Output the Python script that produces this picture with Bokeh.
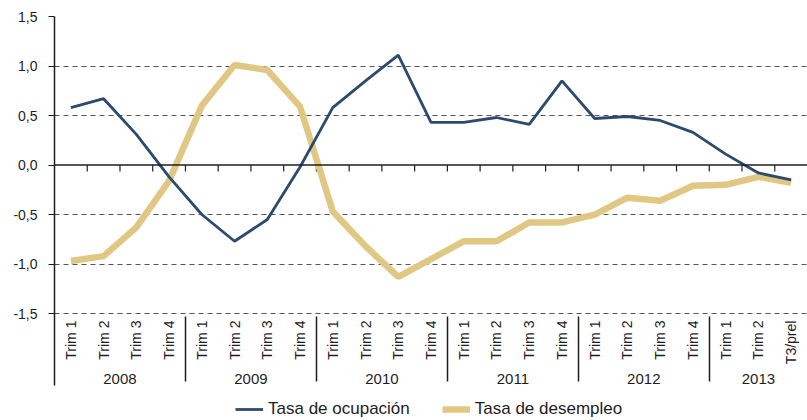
import math
from bokeh.plotting import figure
from bokeh.models import (FactorRange, FixedTicker, Span, Legend, LegendItem,
                          ColumnDataSource, CustomJSTickFormatter)
from bokeh.embed import file_html
from bokeh.resources import INLINE

years = ["2008", "2009", "2010", "2011", "2012", "2013"]
quarters = [
    ["Trim 1", "Trim 2", "Trim 3", "Trim 4"],
    ["Trim 1", "Trim 2", "Trim 3", "Trim 4"],
    ["Trim 1", "Trim 2", "Trim 3", "Trim 4"],
    ["Trim 1", "Trim 2", "Trim 3", "Trim 4"],
    ["Trim 1", "Trim 2", "Trim 3", "Trim 4"],
    ["Trim 1", "Trim 2", "T3/prel"],
]
ocupacion = [0.58, 0.67, 0.31, -0.12, -0.50, -0.77, -0.55, -0.02,
             0.58, 0.85, 1.11, 0.43, 0.43, 0.48, 0.41, 0.85,
             0.47, 0.49, 0.45, 0.33, 0.11, -0.08, -0.15]
desempleo = [-0.97, -0.92, -0.63, -0.16, 0.60, 1.01, 0.96, 0.59,
             -0.47, -0.82, -1.13, -0.95, -0.77, -0.77, -0.58, -0.58,
             -0.50, -0.33, -0.36, -0.21, -0.20, -0.12, -0.18]
y_ticks = [-1.5, -1.0, -0.5, 0.0, 0.5, 1.0, 1.5]

factors = [(y, q) for y, qs in zip(years, quarters) for q in qs]
src = ColumnDataSource(dict(x=factors, ocu=ocupacion, des=desempleo))

FONT = "Liberation Sans"
BLUE = "#2b4a6d"
GOLD = "#e0c884"
INK = "#1e1e1e"

# the frame also holds the category labels and legend below the -1,5 line
Y_BOTTOM = -2.58
p = figure(frame_width=753, frame_height=404, output_backend="svg", toolbar_location=None,
           x_range=FactorRange(*factors, group_padding=0, factor_padding=0,
                               subgroup_padding=0, range_padding=0),
           y_range=(Y_BOTTOM, y_ticks[-1]),
           min_border_left=54, min_border_right=0, min_border_top=16,
           min_border_bottom=0)
p.outline_line_color = None
p.background_fill_color = "white"

# grid
p.xgrid.grid_line_color = None
p.ygrid.ticker = FixedTicker(ticks=[t for t in y_ticks if t != 0])
p.ygrid.grid_line_color = "#555555"
p.ygrid.grid_line_dash = "5 4"
p.ygrid.grid_line_width = 1

# y axis (its line continues down past the category labels)
p.yaxis.ticker = FixedTicker(ticks=y_ticks)
p.yaxis.bounds = (-2.23, y_ticks[-1])
p.yaxis.formatter = CustomJSTickFormatter(code="return tick.toFixed(1).replace('.', ',');")
p.yaxis.axis_line_color = INK
p.yaxis.axis_line_width = 1.5
p.yaxis.major_tick_line_color = INK
p.yaxis.major_tick_out = 6
p.yaxis.major_tick_in = 0
p.yaxis.minor_tick_line_color = None
p.yaxis.major_label_text_font = FONT
p.yaxis.major_label_text_font_size = "14px"
p.yaxis.major_label_text_color = INK
p.yaxis.major_label_standoff = 11

# x axis, drawn at the -1,5 line
xa = p.xaxis[0]
xa.fixed_location = y_ticks[0]
xa.axis_line_color = None
xa.major_tick_line_color = None
xa.major_tick_out = 0
xa.major_tick_in = 0
xa.minor_tick_line_color = None
xa.major_label_orientation = math.pi / 2
xa.major_label_text_font = FONT
xa.major_label_text_font_size = "14px"
xa.major_label_text_color = INK
xa.major_label_standoff = 7
xa.group_text_font = FONT
xa.group_text_font_size = "15px"
xa.group_text_font_style = "normal"
xa.group_text_color = INK
xa.group_text_line_height = 1.6
xa.separator_line_color = INK
xa.separator_line_width = 1.5

# zero line with boundary ticks
p.add_layout(Span(location=0, dimension="width", line_color=INK, line_width=1.5))
n = len(factors)
bx = list(range(1, n))
p.segment(x0=bx, x1=bx, y0=[0] * len(bx), y1=[-0.065] * len(bx),
          line_color=INK, line_width=1.2)

r2 = p.line("x", "des", source=src, line_color=GOLD, line_width=6.5)
r1 = p.line("x", "ocu", source=src, line_color=BLUE, line_width=2.8)

legend = Legend(items=[LegendItem(label="Tasa de ocupación", renderers=[r1]),
                       LegendItem(label="Tasa de desempleo", renderers=[r2])],
                orientation="horizontal", location=(181, 1),
                label_text_font=FONT, label_text_font_size="17px",
                label_text_color=INK, label_standoff=5,
                glyph_width=28, glyph_height=16, spacing=32,
                padding=0, margin=0, border_line_color=None,
                background_fill_alpha=0)
p.add_layout(legend, "center")

open("out.html", "w").write(file_html(p, INLINE))
